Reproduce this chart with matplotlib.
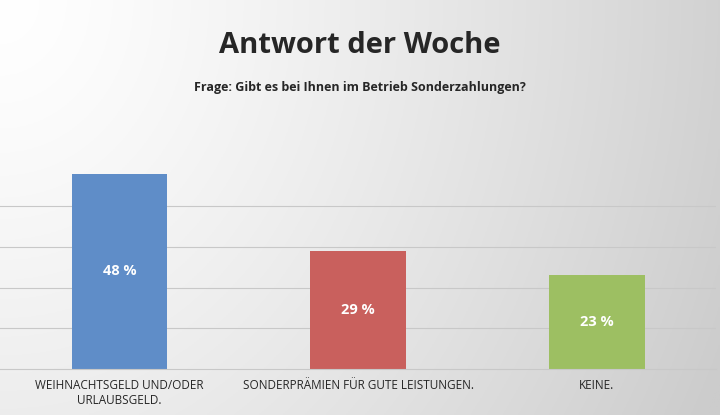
import numpy as np
import matplotlib.pyplot as plt

plt.rcParams['font.family'] = ['Open Sans', 'DejaVu Sans']

categories = ["WEIHNACHTSGELD UND/ODER\nURLAUBSGELD.", "SONDERPRÄMIEN FÜR GUTE LEISTUNGEN.", "KEINE."]
values = [48, 29, 23]
colors = ["#5F8DC8", "#C9605D", "#9DBF62"]

fig = plt.figure(figsize=(7.2, 4.15), dpi=100)

# background gradient, white top-left to grey right
bg = fig.add_axes([0, 0, 1, 1], zorder=0)
xx, yy = np.meshgrid(np.linspace(0, 1, 300), np.linspace(0, 1, 200))
g = 1.0 - 0.2 * np.clip(np.sqrt(xx ** 2 + (yy * 0.5) ** 2) / 1.1, 0, 1) ** 1.3
bg.imshow(np.dstack([g, g, g]), extent=[0, 1, 0, 1], aspect='auto', origin='upper')
bg.axis('off')

ax = fig.add_axes([0.0, 0.111, 0.995, 0.49], zorder=1)
ax.patch.set_alpha(0)
x = np.arange(len(categories))
bars = ax.bar(x, values, width=0.4, color=colors, zorder=2)
for b, v in zip(bars, values):
    ax.text(b.get_x() + b.get_width() / 2, v / 2, f"{v} %", ha='center', va='center',
            color='white', fontsize=10.5, fontweight='bold', zorder=3)
ax.set_xlim(-0.5, 2.5)
ax.set_ylim(0, 50)
ax.set_yticks([10, 20, 30, 40])
ax.yaxis.grid(True, color='#c8c8c8', linewidth=0.8, zorder=0)
ax.set_yticklabels([])
ax.tick_params(left=False, bottom=False)
ax.set_xticks(x)
ax.set_xticklabels(categories, fontsize=8.5, color='#262626')
for s in ['top', 'left', 'right']:
    ax.spines[s].set_visible(False)
ax.spines['bottom'].set_color('#c8c8c8')

fig.text(0.5, 0.89, "Antwort der Woche", ha='center', va='center', fontsize=21,
         fontweight='bold', color='#262626')
fig.text(0.5, 0.788, "Frage: Gibt es bei Ihnen im Betrieb Sonderzahlungen?", ha='center',
         va='center', fontsize=9, fontweight='bold', color='#262626')

fig.savefig("out.png", dpi=100)
